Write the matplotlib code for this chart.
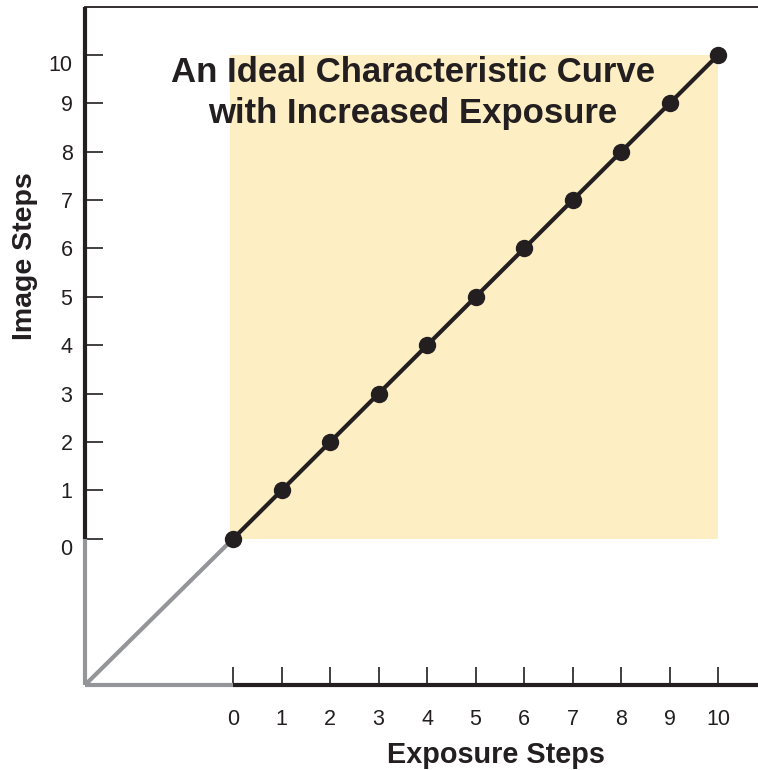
import matplotlib
matplotlib.use("Agg")
import matplotlib.pyplot as plt
import matplotlib.transforms as mtransforms
from matplotlib.patches import Rectangle

plt.rcParams['font.family'] = ['Liberation Sans', 'DejaVu Sans']

# Data
exposure_steps = [0, 1, 2, 3, 4, 5, 6, 7, 8, 9, 10]
image_steps = [0, 1, 2, 3, 4, 5, 6, 7, 8, 9, 10]
tick_values = [0, 1, 2, 3, 4, 5, 6, 7, 8, 9, 10]
title_lines = ["An Ideal Characteristic Curve", "with Increased Exposure"]
x_label = "Exposure Steps"
y_label = "Image Steps"

INK = "#231F20"
GRAY = "#939598"
SHADE = "#FDEEC4"

W, H = 758, 770
fig = plt.figure(figsize=(W / 100, H / 100), dpi=100)
ax = fig.add_axes([85 / W, (H - 685) / H, 1 - 85 / W, (685 - 7) / H])

x0, x1 = -3.05, 10.82
y0, y1 = -3.02, 10.99
ax.set_xlim(x0, x1)
ax.set_ylim(y0, y1)

# Highlighted region covering the measured steps
ax.add_patch(Rectangle((exposure_steps[0] - 0.06, image_steps[0]),
                       exposure_steps[-1] - exposure_steps[0] + 0.06,
                       image_steps[-1] - image_steps[0],
                       facecolor=SHADE, edgecolor='none', zorder=0))

# Frame: spines replaced by two-tone lines
for s in ['left', 'bottom', 'right']:
    ax.spines[s].set_visible(False)
ax.spines['top'].set_color(INK)
ax.spines['top'].set_linewidth(1.3)

lw_axis = 3.0
ax.plot([x0, x0], [y0, 0], color=GRAY, lw=lw_axis, solid_capstyle='butt', clip_on=False, zorder=3)
ax.plot([x0, x0], [0, y1], color=INK, lw=lw_axis, solid_capstyle='butt', clip_on=False, zorder=3)
ax.plot([x0, 0], [y0, y0], color=GRAY, lw=lw_axis, solid_capstyle='butt', clip_on=False, zorder=3)
ax.plot([0, x1], [y0, y0], color=INK, lw=lw_axis, solid_capstyle='butt', clip_on=False, zorder=3)

# Extrapolation back to the origin
ax.plot([x0, exposure_steps[0]], [y0, image_steps[0]], color=GRAY, lw=3.0,
        solid_capstyle='butt', zorder=2)

# Characteristic curve
ax.plot(exposure_steps, image_steps, color=INK, lw=3.0, marker='o',
        markersize=11.5, markerfacecolor=INK, markeredgecolor=INK,
        clip_on=False, zorder=4)

ax.set_xticks(tick_values)
ax.set_yticks(tick_values)
ax.set_xticklabels([str(v) for v in tick_values])
ax.set_yticklabels([str(v) for v in tick_values])
ax.tick_params(axis='both', direction='in', length=13, width=1.2, color=INK,
               labelsize=15.5, labelcolor=INK)
ax.tick_params(axis='x', pad=17)
ax.tick_params(axis='y', pad=9)

# The end labels of the y scale sit a little below their ticks
for lbl in (ax.get_yticklabels()[0], ax.get_yticklabels()[-1]):
    lbl.set_transform(lbl.get_transform() +
                      mtransforms.ScaledTranslation(0, -5.8 / 72, fig.dpi_scale_trans))

for line, ypix in zip(title_lines, [73, 113]):
    fig.text(413 / W, 1 - ypix / H, line, ha='center', va='center',
             fontsize=25, fontweight='bold', color=INK)
fig.text(496 / W, 1 - 755 / H, x_label, ha='center', va='center',
         fontsize=20.8, fontweight='bold', color=INK)
fig.text(25 / W, 1 - 256 / H, y_label, ha='center', va='center', rotation=90,
         fontsize=20.5, fontweight='bold', color=INK)

fig.savefig("out.png", dpi=100)
